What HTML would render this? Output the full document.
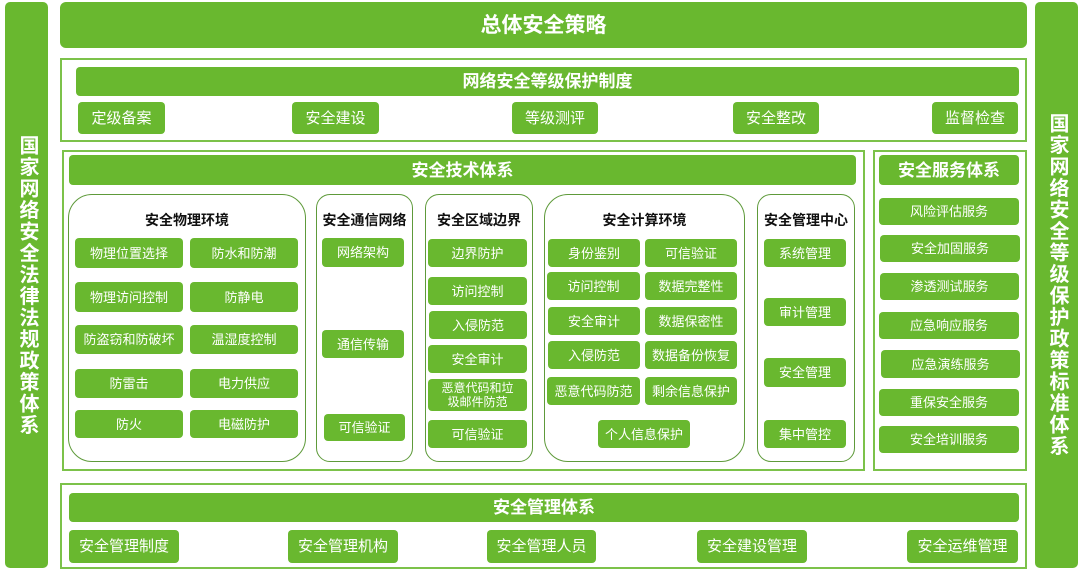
<!DOCTYPE html>
<html><head><meta charset="utf-8"><style>
body{margin:0;width:1080px;height:571px;background:#fff;position:relative;overflow:hidden;font-family:"Liberation Sans","Noto Sans CJK SC",sans-serif}
div{position:absolute;box-sizing:border-box}
.g{background:#69b82f;color:#fff;border-radius:4px;display:flex;align-items:center;justify-content:center;text-align:center;font-size:13px;line-height:15px}
.o{border:2px solid #7cc24a}
.p{border:1.5px solid #5e9a3a;border-radius:24px}
.t{font-weight:bold;font-size:14px;color:#111;text-align:center}
.h{font-weight:bold;font-size:17px}
.v{writing-mode:vertical-rl;font-weight:bold;font-size:20px;letter-spacing:1.5px}
</style></head><body>
<div class="g v" style="left:5px;top:2px;width:43px;height:566px;border-radius:5px">国家网络安全法律法规政策体系</div>
<div class="g v" style="left:1035px;top:2px;width:43px;height:566px;border-radius:5px">国家网络安全等级保护政策标准体系</div>
<div class="g" style="left:60px;top:2px;width:967px;height:46px;font-size:21px;font-weight:bold;border-radius:6px">总体安全策略</div>

<div class="o" style="left:60px;top:58px;width:967px;height:84px"></div>
<div class="g h" style="left:76px;top:67px;width:943px;height:29px">网络安全等级保护制度</div>
<div class="g" style="left:78px;top:102px;width:87px;height:32px;font-size:15px">定级备案</div>
<div class="g" style="left:292px;top:102px;width:87px;height:32px;font-size:15px">安全建设</div>
<div class="g" style="left:512px;top:102px;width:86px;height:32px;font-size:15px">等级测评</div>
<div class="g" style="left:733px;top:102px;width:86px;height:32px;font-size:15px">安全整改</div>
<div class="g" style="left:932px;top:102px;width:86px;height:32px;font-size:15px">监督检查</div>

<div class="o" style="left:62px;top:150px;width:803px;height:321px"></div>
<div class="g h" style="left:69px;top:155px;width:787px;height:30px">安全技术体系</div>

<div class="p" style="left:68px;top:194px;width:238px;height:268px"></div>
<div class="t" style="left:68px;top:210px;width:238px">安全物理环境</div>
<div class="g" style="left:75px;top:238px;width:108px;height:30px">物理位置选择</div>
<div class="g" style="left:190px;top:238px;width:108px;height:30px">防水和防潮</div>
<div class="g" style="left:75px;top:282px;width:108px;height:30px">物理访问控制</div>
<div class="g" style="left:190px;top:282px;width:108px;height:30px">防静电</div>
<div class="g" style="left:75px;top:325px;width:108px;height:29px">防盗窃和防破坏</div>
<div class="g" style="left:190px;top:325px;width:108px;height:29px">温湿度控制</div>
<div class="g" style="left:75px;top:369px;width:108px;height:29px">防雷击</div>
<div class="g" style="left:190px;top:369px;width:108px;height:29px">电力供应</div>
<div class="g" style="left:75px;top:410px;width:108px;height:28px">防火</div>
<div class="g" style="left:190px;top:410px;width:108px;height:28px">电磁防护</div>

<div class="p" style="left:316px;top:194px;width:97px;height:268px;border-radius:14px"></div>
<div class="t" style="left:316px;top:210px;width:97px">安全通信网络</div>
<div class="g" style="left:322px;top:238px;width:82px;height:29px">网络架构</div>
<div class="g" style="left:322px;top:330px;width:82px;height:28px">通信传输</div>
<div class="g" style="left:324px;top:414px;width:81px;height:27px">可信验证</div>

<div class="p" style="left:425px;top:194px;width:108px;height:268px;border-radius:14px"></div>
<div class="t" style="left:425px;top:210px;width:108px">安全区域边界</div>
<div class="g" style="left:428px;top:239px;width:99px;height:28px">边界防护</div>
<div class="g" style="left:428px;top:277px;width:99px;height:28px">访问控制</div>
<div class="g" style="left:429px;top:311px;width:98px;height:28px">入侵防范</div>
<div class="g" style="left:428px;top:345px;width:99px;height:28px">安全审计</div>
<div class="g" style="left:428px;top:379px;width:99px;height:32px;font-size:12px;line-height:14px">恶意代码和垃<br>圾邮件防范</div>
<div class="g" style="left:428px;top:420px;width:99px;height:28px">可信验证</div>

<div class="p" style="left:544px;top:194px;width:201px;height:268px"></div>
<div class="t" style="left:544px;top:210px;width:201px">安全计算环境</div>
<div class="g" style="left:548px;top:239px;width:92px;height:28px">身份鉴别</div>
<div class="g" style="left:645px;top:239px;width:92px;height:28px">可信验证</div>
<div class="g" style="left:547px;top:272px;width:93px;height:28px">访问控制</div>
<div class="g" style="left:645px;top:272px;width:92px;height:28px">数据完整性</div>
<div class="g" style="left:548px;top:307px;width:92px;height:28px">安全审计</div>
<div class="g" style="left:645px;top:307px;width:92px;height:28px">数据保密性</div>
<div class="g" style="left:548px;top:341px;width:92px;height:28px">入侵防范</div>
<div class="g" style="left:645px;top:341px;width:92px;height:28px">数据备份恢复</div>
<div class="g" style="left:547px;top:377px;width:93px;height:28px">恶意代码防范</div>
<div class="g" style="left:645px;top:377px;width:92px;height:28px">剩余信息保护</div>
<div class="g" style="left:598px;top:420px;width:92px;height:28px">个人信息保护</div>

<div class="p" style="left:757px;top:194px;width:98px;height:268px;border-radius:14px"></div>
<div class="t" style="left:757px;top:210px;width:98px">安全管理中心</div>
<div class="g" style="left:764px;top:239px;width:82px;height:28px">系统管理</div>
<div class="g" style="left:764px;top:298px;width:82px;height:28px">审计管理</div>
<div class="g" style="left:764px;top:358px;width:82px;height:29px">安全管理</div>
<div class="g" style="left:764px;top:420px;width:82px;height:28px">集中管控</div>

<div class="o" style="left:873px;top:150px;width:154px;height:321px"></div>
<div class="g h" style="left:879px;top:155px;width:140px;height:30px">安全服务体系</div>
<div class="g" style="left:879px;top:198px;width:140px;height:27px">风险评估服务</div>
<div class="g" style="left:880px;top:235px;width:140px;height:27px">安全加固服务</div>
<div class="g" style="left:880px;top:273px;width:139px;height:27px">渗透测试服务</div>
<div class="g" style="left:879px;top:312px;width:140px;height:27px">应急响应服务</div>
<div class="g" style="left:881px;top:350px;width:139px;height:28px">应急演练服务</div>
<div class="g" style="left:879px;top:389px;width:140px;height:27px">重保安全服务</div>
<div class="g" style="left:879px;top:426px;width:140px;height:27px">安全培训服务</div>

<div class="o" style="left:60px;top:483px;width:967px;height:86px"></div>
<div class="g h" style="left:69px;top:493px;width:950px;height:29px">安全管理体系</div>
<div class="g" style="left:69px;top:530px;width:110px;height:33px;font-size:15px">安全管理制度</div>
<div class="g" style="left:288px;top:530px;width:110px;height:33px;font-size:15px">安全管理机构</div>
<div class="g" style="left:487px;top:530px;width:109px;height:33px;font-size:15px">安全管理人员</div>
<div class="g" style="left:697px;top:530px;width:110px;height:33px;font-size:15px">安全建设管理</div>
<div class="g" style="left:907px;top:530px;width:111px;height:33px;font-size:15px">安全运维管理</div>
</body></html>
